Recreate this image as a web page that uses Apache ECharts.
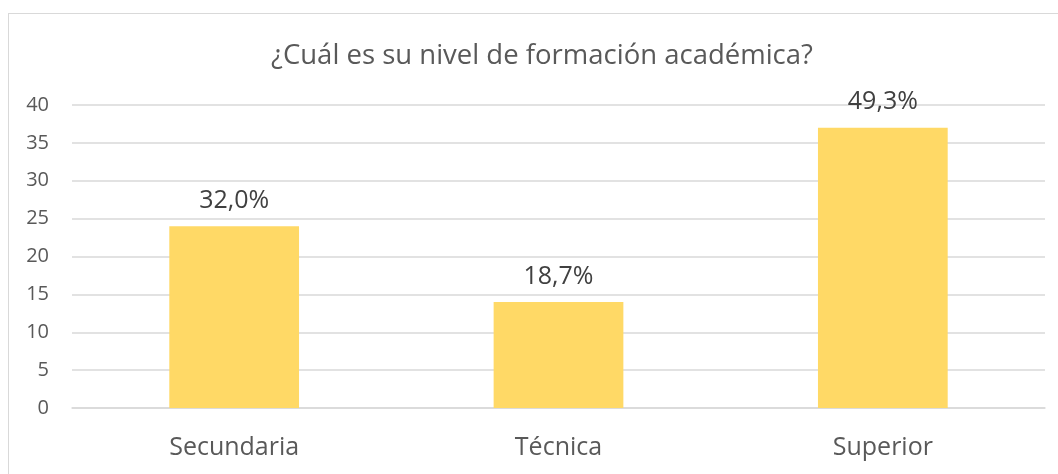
<!DOCTYPE html>
<html>
<head>
<meta charset="utf-8">
<script src="https://cdn.jsdelivr.net/npm/echarts@6/dist/echarts.min.js"></script>
<style>
  html, body { margin: 0; padding: 0; background: #fff; overflow: hidden; }
  #frame {
    position: absolute; left: 8px; top: 13px;
    width: 1060px; height: 480px;
    border: 1px solid #d9d9d9; box-sizing: border-box;
  }
  #chart { position: absolute; left: 0; top: 0; width: 1058px; height: 474px; }
</style>
</head>
<body>
<div id="frame"></div>
<div id="chart"></div>
<script>
const titleText = "¿Cuál es su nivel de formación académica?";
const categories = ["Secundaria", "Técnica", "Superior"];
const counts = [24, 14, 37];
const percentLabels = ["32,0%", "18,7%", "49,3%"];

const font = "'Open Sans', 'Noto Sans', sans-serif";

const chart = echarts.init(document.getElementById("chart"));
chart.setOption({
  animation: false,
  title: {
    text: titleText,
    left: 537,
    textAlign: "center",
    top: 37,
    textStyle: { fontFamily: font, fontSize: 27.5, fontWeight: "normal", color: "#595959" },
  },
  grid: { left: 72, right: 13, top: 105, bottom: 66 },
  xAxis: {
    type: "category",
    data: categories,
    axisLine: { lineStyle: { color: "#d9d9d9", width: 1.5 } },
    axisTick: { show: false },
    axisLabel: { fontFamily: font, fontSize: 25, color: "#595959", margin: 27 },
  },
  yAxis: {
    type: "value",
    min: 0,
    max: 40,
    interval: 5,
    axisLine: { show: false },
    axisTick: { show: false },
    splitLine: { lineStyle: { color: "#d9d9d9", width: 1.5 } },
    axisLabel: { fontFamily: font, fontSize: 20, color: "#595959", margin: 23 },
  },
  series: [
    {
      type: "bar",
      data: counts,
      barWidth: "40%",
      itemStyle: { color: "#ffd966" },
      label: {
        show: true,
        position: "top",
        distance: 13,
        fontFamily: font,
        fontSize: 25,
        color: "#404040",
        formatter: (p) => percentLabels[p.dataIndex],
      },
    },
  ],
});
</script>
</body>
</html>
